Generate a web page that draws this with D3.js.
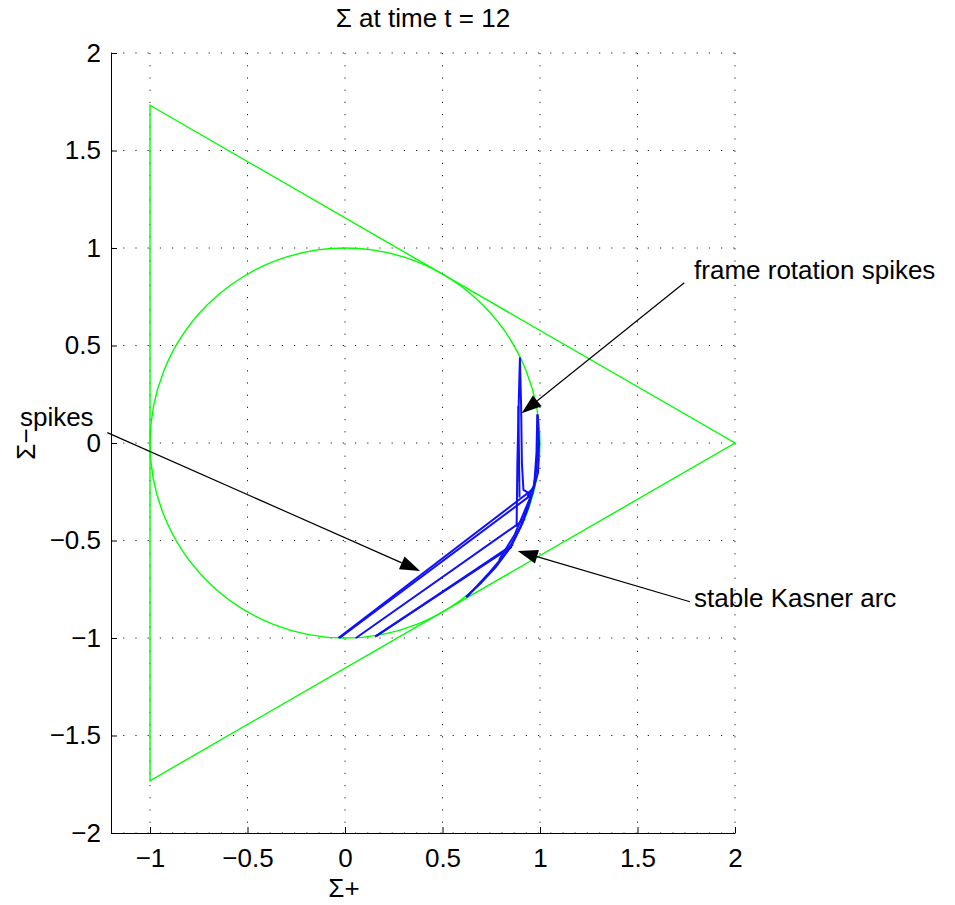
<!DOCTYPE html>
<html>
<head>
<meta charset="utf-8">
<script src="https://cdn.jsdelivr.net/npm/d3@7.9.0/dist/d3.min.js"></script>
<style>
  body { margin: 0; background: #fff; }
  svg text { font-family: "Liberation Sans", Arial, sans-serif; fill: #000; }
</style>
</head>
<body>
<svg id="chart" width="955" height="905"></svg>
<script>
// axis setup
let xTicks = [-1, -0.5, 0, 0.5, 1, 1.5, 2];
let yTicks = [-2, -1.5, -1, -0.5, 0, 0.5, 1, 1.5, 2];

// green frame: triangle corners + unit (Kasner) circle
let triangle = [[-1, 1.732], [2, 0], [-1, -1.732]];
let circleR = 1;

// blue trajectory strands
let kasnerArc = [[0.62, -0.79], [0.70, -0.715], [0.77, -0.64], [0.83, -0.56], [0.875, -0.48], [0.91, -0.41],
                 [0.94, -0.33], [0.96, -0.26], [0.977, -0.17], [0.988, -0.06], [0.992, 0.04], [0.988, 0.145]];
let innerArc = [[0.625, -0.79], [0.74, -0.665], [0.85, -0.535], [0.90, -0.43], [0.935, -0.33], [0.955, -0.265]];
let fanArc = [[0.79, -0.60], [0.87, -0.47], [0.95, -0.28]];
let transitions = [
    [[-0.034, -1.0], [0.966, -0.235]],
    [[-0.028, -1.0], [0.95, -0.27]],
    [[0.056, -1.0], [0.923, -0.39]],
    [[0.154, -0.993], [0.855, -0.532]],
    [[0.16, -0.99], [0.862, -0.52]]
];
let spikeA = [[0.88, -0.43], [0.884, -0.1], [0.892, 0.25], [0.897, 0.434], [0.903, 0.2], [0.907, -0.1],
              [0.915, -0.24], [0.955, -0.265]];
let spikeB = [[0.895, -0.28], [0.889, 0.186], [0.893, -0.2]];
let spikeC = [[0.935, -0.275], [0.97, -0.22], [0.982, -0.05], [0.986, 0.144], [0.995, 0.0], [0.99, -0.15], [0.96, -0.26]];

// text arrows: label, text anchor point, arrow start, arrow tip (data units)
let notes = [
    { label: 'frame rotation spikes', at: [1.79, 0.842], from: [1.740, 0.822], to: [0.906, 0.152] },
    { label: 'stable Kasner arc', at: [1.79, -0.84], from: [1.769, -0.814], to: [0.886, -0.554] },
    { label: 'spikes', at: [-1.667, 0.087], from: [-1.219, 0.053], to: [0.385, -0.656] }
];

let svg = d3.select('#chart');
let x = d3.scaleLinear().domain([-1.2, 2]).range([111, 735]);
let y = d3.scaleLinear().domain([-2, 2]).range([833, 53]);
let fmt = (d) => (d < 0 ? '\u2212' + Math.abs(d) : '' + d);
let fontSize = '26px';

// dotted grid
let grid = svg.append('g').attr('stroke', '#222').attr('stroke-width', 1).attr('stroke-dasharray', '1.2,11');
xTicks.forEach((t) => {
    grid.append('line').attr('x1', x(t)).attr('x2', x(t)).attr('y1', y(2)).attr('y2', y(-2));
});
yTicks.forEach((t) => {
    grid.append('line').attr('y1', y(t)).attr('y2', y(t)).attr('x1', x(-1.2)).attr('x2', x(2));
});

// axes, MATLAB style inward ticks
let xAxis = svg.append('g').attr('transform', `translate(0,${y(-2)})`)
    .call(d3.axisBottom(x).tickValues(xTicks).tickFormat(fmt).tickSize(-6).tickSizeOuter(0).tickPadding(16));
let yAxis = svg.append('g').attr('transform', `translate(${x(-1.2)},0)`)
    .call(d3.axisLeft(y).tickValues(yTicks).tickFormat(fmt).tickSize(-6).tickSizeOuter(0).tickPadding(10));
[xAxis, yAxis].forEach((a) => {
    a.selectAll('text').style('font-size', fontSize).style('font-family', '"Liberation Sans", Arial, sans-serif');
    a.selectAll('path, line').attr('stroke', '#000');
});

// green triangle and circle
let line = d3.line().x((d) => x(d[0])).y((d) => y(d[1]));
svg.append('path')
    .attr('d', line(triangle) + 'Z')
    .attr('fill', 'none').attr('stroke', '#00ff00').attr('stroke-width', 1.4);
svg.append('circle')
    .attr('cx', x(0)).attr('cy', y(0)).attr('r', x(circleR) - x(0))
    .attr('fill', 'none').attr('stroke', '#00ff00').attr('stroke-width', 1.4);

// blue trajectory
let strands = [kasnerArc, innerArc, fanArc, spikeA, spikeB, spikeC].concat(transitions);
svg.append('g').selectAll('path').data(strands).join('path')
    .attr('d', (d) => line(d))
    .attr('fill', 'none').attr('stroke', '#1010ff').attr('stroke-width', 2)
    .attr('stroke-linejoin', 'round');

// arrows + labels
notes.forEach((n) => {
    let x0 = x(n.from[0]), y0 = y(n.from[1]), x1 = x(n.to[0]), y1 = y(n.to[1]);
    let ang = Math.atan2(y1 - y0, x1 - x0);
    let len = 20, half = 7;
    let bx = x1 - len * Math.cos(ang), by = y1 - len * Math.sin(ang);
    svg.append('line').attr('x1', x0).attr('y1', y0).attr('x2', bx).attr('y2', by)
        .attr('stroke', '#000').attr('stroke-width', 1.2);
    let head = [[x1, y1],
        [bx + half * Math.sin(ang), by - half * Math.cos(ang)],
        [bx - half * Math.sin(ang), by + half * Math.cos(ang)]];
    svg.append('polygon').attr('points', head.map((p) => p.join(',')).join(' ')).attr('fill', '#000');
    svg.append('text').attr('x', x(n.at[0])).attr('y', y(n.at[1]))
        .style('font-size', fontSize).text(n.label);
});

// title and axis labels
svg.append('text').attr('x', (x(-1.2) + x(2)) / 2).attr('y', 27)
    .attr('text-anchor', 'middle').style('font-size', fontSize).text('\u03A3 at time t = 12');
svg.append('text').attr('x', 344).attr('y', 897)
    .attr('text-anchor', 'middle').style('font-size', fontSize).text('\u03A3+');
svg.append('text').attr('transform', 'translate(35,444) rotate(-90)')
    .attr('text-anchor', 'middle').style('font-size', fontSize).text('\u03A3\u2212');
</script>
</body>
</html>
